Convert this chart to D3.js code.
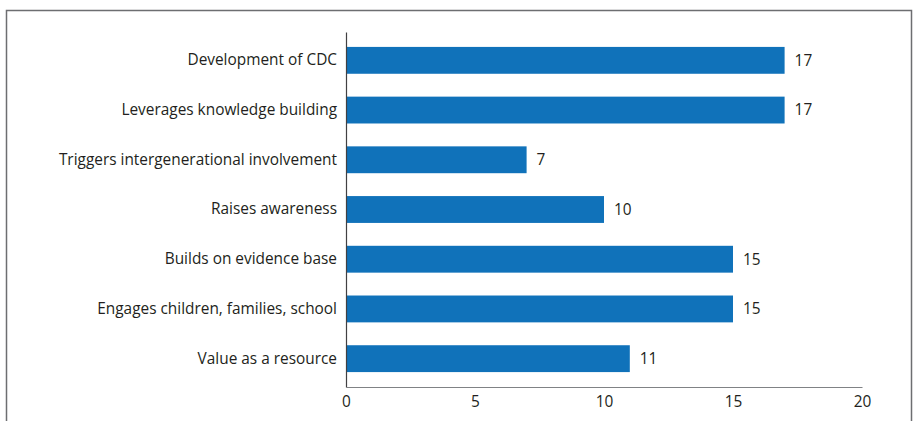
<!DOCTYPE html>
<html>
<head>
<meta charset="utf-8">
<script src="https://cdn.jsdelivr.net/npm/d3@7"></script>
<style>
	body { margin: 0; background: #fff; }
	svg text { font-family: "Open Sans", "Noto Sans", sans-serif; fill: #231f20; }
</style>
</head>
<body>
<div id="canvas"></div>
<script>
	// chart values
	var categories = [
		'Development of CDC',
		'Leverages knowledge building',
		'Triggers intergenerational involvement',
		'Raises awareness',
		'Builds on evidence base',
		'Engages children, families, school',
		'Value as a resource'
	];
	var counts = [17, 17, 7, 10, 15, 15, 11];
	var xTicks = [0, 5, 10, 15, 20];

	var width = 914,
		height = 421,
		fontSize = '15.4px',
		barColor = '#1072ba';

	var svg = d3.select('#canvas').append('svg')
		.attr('width', width)
		.attr('height', height);

	// outer frame (open at the bottom)
	svg.append('path')
		.attr('d', 'M6.5,' + height + 'V10.5H911.5V' + height)
		.attr('fill', 'none')
		.attr('stroke', '#6d6e71')
		.attr('stroke-width', 1.5);

	var x = d3.scaleLinear().domain([0, 20]).range([346, 862]);
	var y = d3.scaleBand().domain(categories).range([32, 387])
		.paddingInner(0.46).paddingOuter(0.3);

	var rows = categories.map(function(c, i) {
		return { name: c, value: counts[i] };
	});

	svg.selectAll('rect.bar')
		.data(rows)
		.enter()
		.append('rect')
		.attr('class', 'bar')
		.attr('x', x(0))
		.attr('y', function(d) { return y(d.name); })
		.attr('width', function(d) { return x(d.value) - x(0); })
		.attr('height', y.bandwidth())
		.attr('fill', barColor);

	// value labels
	svg.selectAll('text.val')
		.data(rows)
		.enter()
		.append('text')
		.attr('class', 'val')
		.attr('x', function(d) { return x(d.value) + 10; })
		.attr('y', function(d) { return y(d.name) + y.bandwidth() / 2; })
		.attr('dy', '0.35em')
		.style('font-size', fontSize)
		.text(function(d) { return d.value; });

	// y axis
	var yAxis = svg.append('g')
		.attr('transform', 'translate(' + x(0) + ',0)')
		.call(d3.axisLeft(y).tickSize(0).tickPadding(9));
	yAxis.select('.domain').attr('stroke', '#414042').attr('stroke-width', 1.2);
	yAxis.selectAll('text').style('font-size', fontSize);

	// x axis
	var xAxis = svg.append('g')
		.attr('transform', 'translate(0,387)')
		.call(d3.axisBottom(x).tickValues(xTicks).tickSize(0).tickPadding(9));
	xAxis.select('.domain').attr('stroke', '#808285').attr('stroke-width', 1.2);
	xAxis.selectAll('text').style('font-size', fontSize);
</script>
</body>
</html>
